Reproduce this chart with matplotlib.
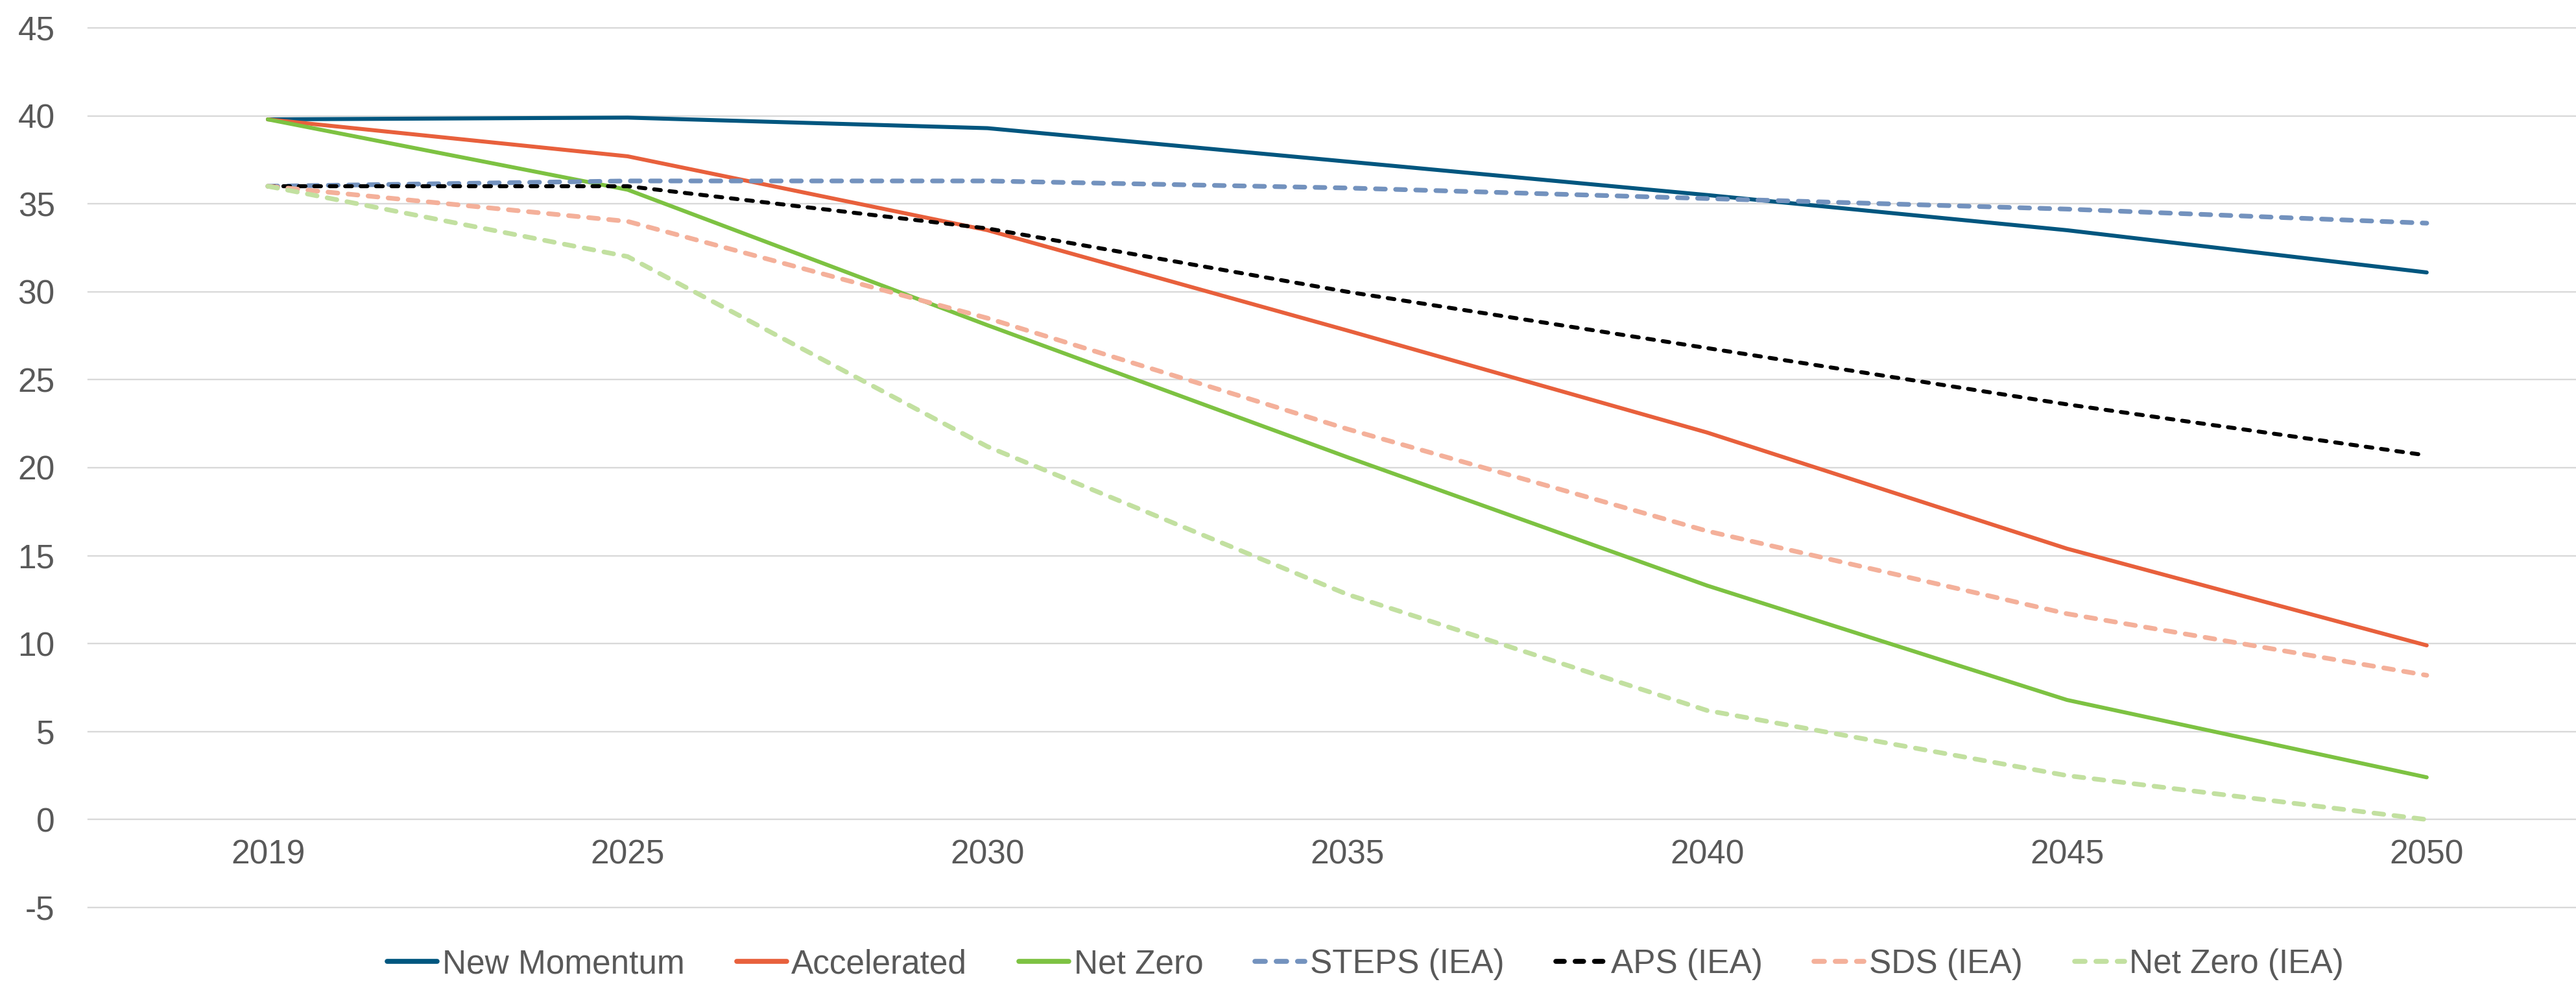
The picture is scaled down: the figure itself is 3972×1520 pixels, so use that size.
import matplotlib
matplotlib.use("Agg")
import matplotlib.pyplot as plt

years = ["2019", "2025", "2030", "2035", "2040", "2045", "2050"]
new_momentum = [39.8, 39.9, 39.3, 37.4, 35.5, 33.5, 31.1]
accelerated = [39.8, 37.7, 33.5, 27.8, 22.0, 15.4, 9.9]
net_zero = [39.8, 35.8, 28.1, 20.6, 13.3, 6.8, 2.4]
steps_iea = [36.0, 36.3, 36.3, 35.9, 35.3, 34.7, 33.9]
aps_iea = [36.0, 36.0, 33.6, 30.0, 26.8, 23.6, 20.7]
sds_iea = [36.0, 34.0, 28.5, 22.2, 16.4, 11.7, 8.2]
net_zero_iea = [36.0, 32.0, 21.2, 12.8, 6.2, 2.5, 0.0]

yticks = [-5, 0, 5, 10, 15, 20, 25, 30, 35, 40, 45]

plt.rcParams['font.family'] = ['Liberation Sans', 'DejaVu Sans']

fig = plt.figure(figsize=(39.73, 15.2), dpi=100)
ax = fig.add_axes([136/3973, 1 - 1399/1520, 1 - 136/3973, (1399 - 43)/1520])

x = list(range(len(years)))
solid_lw = 4.4
dash_lw = 5.2

series = [
    ("New Momentum", new_momentum, "#00567F", "solid"),
    ("Accelerated", accelerated, "#E8603C", "solid"),
    ("Net Zero", net_zero, "#7DC242", "solid"),
    ("STEPS (IEA)", steps_iea, "#7392BE", "dash"),
    ("APS (IEA)", aps_iea, "#000000", "short"),
    ("SDS (IEA)", sds_iea, "#F4B09A", "dash"),
    ("Net Zero (IEA)", net_zero_iea, "#C2E0A0", "dash"),
]

for name, vals, col, style in series:
    if style == "solid":
        ax.plot(x, vals, color=col, lw=solid_lw, solid_capstyle="round",
                solid_joinstyle="round", label=name, zorder=3)
    elif style == "dash":
        ax.plot(x, vals, color=col, lw=dash_lw, dashes=(2.1, 2.2),
                dash_capstyle="round", dash_joinstyle="round", label=name, zorder=4)
    else:
        ax.plot(x, vals, color=col, lw=solid_lw, dashes=(1.7, 2.2),
                dash_capstyle="round", dash_joinstyle="round", label=name, zorder=4)

ax.set_xlim(-0.4993, (3973 - 413) / 554.8)
ax.set_ylim(-5, 45)
ax.set_yticks(yticks)
ax.set_yticklabels([str(v) for v in yticks])
ax.set_xticks(x)
ax.set_xticklabels(years)

ax.grid(axis="y", color="#D9D9D9", lw=1.7, zorder=0)
ax.grid(axis="x", visible=False)
for gl in ax.get_ygridlines():
    gl.set_clip_on(False)
for s in ["left", "right", "top"]:
    ax.spines[s].set_visible(False)
ax.spines["bottom"].set_position(("data", 0))
ax.spines["bottom"].set_visible(False)

ax.tick_params(axis="y", length=0, pad=37, labelsize=37, labelcolor="#595959")
ax.tick_params(axis="x", length=0, pad=22, labelsize=37, labelcolor="#595959")

leg = fig.legend(loc="center", bbox_to_anchor=(0.53, 0.022), ncol=7, frameon=False,
                 fontsize=37, handlelength=1.5, handletextpad=0.15, columnspacing=1.55,
                 labelcolor="#595959")
for h in leg.get_lines():
    h.set_linewidth(5.5)

fig.savefig("out.png", dpi=100, facecolor="white")
